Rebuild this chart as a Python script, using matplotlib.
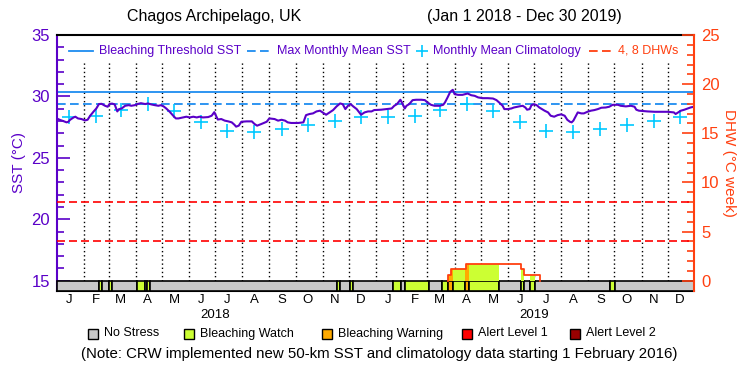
import numpy as np
import pandas as pd
import matplotlib
matplotlib.use('Agg')
import matplotlib.pyplot as plt
import matplotlib.dates as mdates
from matplotlib.patches import Rectangle

plt.rcParams['font.family'] = ['Liberation Sans', 'DejaVu Sans']

# ---- data ----
start_date = '2018-01-01'
end_date = '2019-12-31'

# daily SST, as days since 1 Jan 2018
sst_day = [
    0, 3, 7, 11, 13, 15, 19, 21, 24, 28,
    32, 35, 38, 42, 45, 48, 51, 55, 58, 60,
    63, 66, 69, 71, 74, 78, 82, 85, 89, 93,
    96, 101, 104, 108, 112, 116, 119, 122, 125, 129,
    133, 136, 139, 144, 148, 152, 156, 160, 163, 167,
    173, 177, 180, 182, 184, 188, 192, 196, 200, 203,
    205, 208, 211, 217, 223, 226, 229, 234, 240, 243,
    249, 253, 257, 261, 264, 268, 276, 282, 285, 289,
    293, 297, 301, 304, 308, 312, 316, 320, 324, 327,
    330, 333, 336, 339, 343, 346, 348, 352, 356, 360,
    363, 371, 377, 383, 386, 389, 393, 395, 398, 400,
    403, 407, 411, 417, 421, 424, 428, 432, 438, 442,
    444, 447, 450, 453, 455, 459, 464, 470, 474, 478,
    482, 487, 493, 499, 503, 506, 510, 512, 516, 520,
    523, 529, 533, 536, 538, 541, 543, 546, 549, 552,
    555, 558, 562, 565, 569, 573, 577, 581, 584, 587,
    589, 591, 594, 596, 600, 603, 607, 611, 615, 619,
    623, 628, 632, 636, 642, 645, 651, 657, 661, 663,
    666, 676, 684, 691, 699, 706, 708, 711, 714, 718,
    722, 725, 728]
sst_val = [
    28.20, 28.10, 28.00, 27.89, 27.94, 28.10, 28.29, 28.35, 28.21, 28.16,
    28.05, 28.10, 28.43, 28.78, 29.02, 29.38, 29.40, 29.24, 29.16, 29.38,
    29.42, 29.35, 28.78, 28.97, 29.02, 29.24, 29.29, 29.24, 29.29, 29.40,
    29.45, 29.38, 29.43, 29.35, 29.29, 29.24, 29.29, 29.19, 29.02, 28.75,
    28.43, 28.21, 28.21, 28.29, 28.35, 28.29, 28.35, 28.29, 28.35, 28.29,
    28.32, 28.43, 28.72, 28.43, 28.12, 28.16, 28.03, 27.97, 27.89, 27.70,
    27.54, 27.62, 27.94, 27.97, 27.97, 27.76, 27.62, 27.76, 27.94, 28.21,
    28.16, 28.03, 28.10, 28.03, 27.89, 27.84, 27.84, 27.89, 28.48, 28.57,
    28.62, 28.78, 28.84, 28.70, 28.51, 28.70, 28.89, 29.19, 29.43, 29.37,
    28.97, 29.24, 29.38, 29.19, 28.97, 28.70, 28.51, 28.70, 28.78, 28.78,
    28.89, 28.92, 28.97, 29.02, 29.24, 29.37, 29.73, 29.46, 29.02, 29.24,
    29.37, 29.70, 29.73, 29.73, 29.70, 29.51, 29.32, 29.24, 29.24, 29.32,
    29.51, 29.92, 30.37, 30.54, 30.19, 30.13, 30.13, 30.24, 30.10, 30.05,
    29.92, 29.86, 29.86, 29.83, 29.70, 29.51, 29.24, 28.97, 28.97, 29.02,
    29.10, 29.19, 29.24, 29.10, 28.92, 28.97, 29.29, 29.37, 29.29, 29.10,
    28.97, 28.84, 28.70, 28.43, 28.35, 28.48, 28.54, 28.43, 28.10, 27.94,
    27.89, 28.03, 28.43, 28.70, 28.62, 28.62, 28.75, 28.84, 28.89, 28.97,
    29.08, 29.10, 29.16, 29.32, 29.32, 29.24, 29.19, 29.24, 29.16, 28.92,
    28.84, 28.78, 28.75, 28.75, 28.75, 28.70, 28.57, 28.70, 28.84, 28.92,
    29.02, 29.10, 29.15]

mmm = 29.37
threshold = 30.37
dhw_levels = [4, 8]

# monthly mean climatology, Jan..Dec (repeated each year)
clim_val = [28.30, 28.43, 28.91, 29.37, 28.78, 27.89,
            27.21, 27.13, 27.35, 27.70, 28.02, 28.30]

# bleaching alert level, changes at these dates
stress_start = ['2018-01-01', '2018-02-18', '2018-02-22', '2018-03-01', '2018-03-05',
                '2018-04-02', '2018-04-12', '2018-04-14', '2018-04-18', '2018-11-18',
                '2018-11-21', '2018-12-02', '2018-12-06', '2019-01-20', '2019-01-30',
                '2019-02-03', '2019-03-03', '2019-03-18', '2019-03-25', '2019-03-30',
                '2019-04-13', '2019-04-17', '2019-05-22', '2019-06-16', '2019-06-19',
                '2019-06-26', '2019-07-02', '2019-09-26', '2019-10-02']
stress_level = [0, 1, 0, 1, 0, 1, 0, 1, 0, 1, 0, 1, 0, 1, 0,
                1, 0, 1, 2, 1, 2, 1, 0, 1, 0, 1, 0, 1, 0]

# degree heating weeks, changes at these dates
dhw_date = ['2019-03-25', '2019-03-28', '2019-04-14', '2019-06-16', '2019-06-19', '2019-07-08']
dhw_val = [0.6, 1.2, 1.7, 1.2, 0.6, 0.0]

month_letters = ['J', 'F', 'M', 'A', 'M', 'J', 'J', 'A', 'S', 'O', 'N', 'D']
years = [2018, 2019]

level_names = ['No Stress', 'Bleaching Watch', 'Bleaching Warning', 'Alert Level 1', 'Alert Level 2']
level_colors = ['#c8c8c8', '#ccff33', '#ffaa00', '#ff0000', '#990000']

PURPLE = '#5a00c8'
BLUE = '#1e8cf0'
CYAN = '#00c8ff'
ORANGE = '#ff4010'

# ---- figure ----
t0 = pd.Timestamp(start_date)
t1 = pd.Timestamp(end_date)

fig = plt.figure(figsize=(7.5, 3.75), dpi=100)
ax = fig.add_axes([0.076, 0.2253, 0.8493, 0.6813])
ax2 = ax.twinx()

ymin, ymax = 14.2, 35.0
ax.set_ylim(ymin, ymax)
ax2.set_ylim((ymin - 15) * 1.25, (ymax - 15) * 1.25)
ax.set_xlim(t0, t1)

# month boundaries
month_starts = pd.date_range(t0, t1, freq='MS')
ax.vlines(month_starts[1:], 15, 32.8, colors='black', lw=1, linestyles=(0, (1, 2)), zorder=1)

# threshold / MMM
ax.axhline(threshold, color=BLUE, lw=1.3, zorder=2)
ax.axhline(mmm, color=BLUE, lw=1.3, ls=(0, (4.8, 2.4)), zorder=2)
for d in dhw_levels:
    ax2.axhline(d, color='#ff0000', lw=1.2, ls=(0, (4.8, 2.4)), zorder=2)

# climatology
clim_dates = month_starts + pd.Timedelta(days=14)
ax.plot(clim_dates, np.tile(clim_val, len(years)), ls='none', marker='+',
        color=CYAN, ms=10, mew=1.2, zorder=3)

# SST
sst_dates = t0 + pd.to_timedelta(sst_day, unit='D')
ax.plot(sst_dates, sst_val, color=PURPLE, lw=1.5, zorder=5)

# stress bar
seg_starts = pd.to_datetime(stress_start)
seg_ends = list(seg_starts[1:]) + [t1]
for s, e, lev in zip(seg_starts, seg_ends, stress_level):
    x0 = mdates.date2num(s)
    x1 = mdates.date2num(e)
    ax.add_patch(Rectangle((x0, ymin), x1 - x0, 15 - ymin, facecolor=level_colors[lev],
                           edgecolor='black', lw=1.2, zorder=4, clip_on=False))

# DHW area coloured by alert level
days = pd.date_range(t0, t1, freq='D')
dhw_dates = pd.to_datetime(dhw_date)
idx = np.searchsorted(dhw_dates.values, days.values, side='right') - 1
dhw_daily = np.where(idx >= 0, np.array(dhw_val)[np.clip(idx, 0, None)], 0.0)
for s, e, lev in zip(seg_starts, seg_ends, stress_level):
    if lev == 0:
        continue
    m = (days >= s) & (days <= e)
    ax2.fill_between(days[m], 0, dhw_daily[m], step='post',
                     color=level_colors[lev], lw=0, zorder=2)
ax2.step([dhw_dates[0]] + list(dhw_dates), [0] + dhw_val, where='post',
         color=ORANGE, lw=1.3, zorder=3)

# axes styling
ax.set_xticks([])
ax2.set_xticks([])
ax.set_yticks([15, 20, 25, 30, 35])
ax.set_yticks(np.arange(15, 36, 1), minor=True)
ax2.set_yticks([0, 5, 10, 15, 20, 25])
ax2.set_yticks(np.arange(0, 26, 1), minor=True)
ax.tick_params(axis='y', which='major', direction='in', length=9, width=1.2,
               color=PURPLE, labelcolor=PURPLE, labelsize=12, pad=5)
ax.tick_params(axis='y', which='minor', direction='in', length=5, width=1.2, color=PURPLE)
ax2.tick_params(axis='y', which='major', direction='in', length=9, width=1.2,
                color=ORANGE, labelcolor=ORANGE, labelsize=12, pad=5)
ax2.tick_params(axis='y', which='minor', direction='in', length=5, width=1.2, color=ORANGE)

ax.spines['left'].set_color(PURPLE)
ax.spines['right'].set_visible(False)
ax2.spines['left'].set_visible(False)
ax2.spines['top'].set_visible(False)
ax2.spines['bottom'].set_visible(False)
ax2.spines['right'].set_color(ORANGE)
for sp in ['left', 'top', 'bottom']:
    ax.spines[sp].set_linewidth(1.5)
ax2.spines['right'].set_linewidth(1.5)

ax.set_ylabel('SST (°C)', color=PURPLE, fontsize=11, labelpad=4)
ax2.set_ylabel('DHW (°C week)', color=ORANGE, fontsize=11, rotation=-90, labelpad=12)

# month / year labels
xt = ax.get_xaxis_transform()
for i, ms_ in enumerate(month_starts):
    ax.text(ms_ + pd.Timedelta(days=14), -0.037, month_letters[ms_.month - 1],
            transform=xt, ha='center', va='center', fontsize=9.5)
for y in years:
    ax.text(pd.Timestamp(f'{y}-07-01'), -0.096, str(y), transform=xt,
            ha='center', va='center', fontsize=9.5)

# in-plot legend
ly = 0.9386
ta = ax.transAxes
ax.plot([0.0188, 0.0565], [ly, ly], color=BLUE, lw=1.3, transform=ta)
ax.text(0.0659, ly, 'Bleaching Threshold SST', color=PURPLE, fontsize=9, va='center', transform=ta)
ax.plot([0.298, 0.334], [ly, ly], color=BLUE, lw=1.3, ls=(0, (4.8, 2.4)), transform=ta)
ax.text(0.345, ly, 'Max Monthly Mean SST', color=PURPLE, fontsize=9, va='center', transform=ta)
ax.plot([0.573], [ly], marker='+', color=CYAN, ms=9, mew=1.2, transform=ta)
ax.text(0.590, ly, 'Monthly Mean Climatology', color=PURPLE, fontsize=9, va='center', transform=ta)
ax.plot([0.835, 0.871], [ly, ly], color=ORANGE, lw=1.3, ls=(0, (4.8, 2.4)), transform=ta)
ax.text(0.881, ly, '4, 8 DHWs', color=ORANGE, fontsize=9, va='center', transform=ta)

# title
fig.text(127 / 750, 1 - 17 / 375, 'Chagos Archipelago, UK', fontsize=11.5, va='center', ha='left')
fig.text(622 / 750, 1 - 17 / 375, '(Jan 1 2018 - Dec 30 2019)', fontsize=11.5, va='center', ha='right')

# bottom legend
box_x = [88, 184, 322, 462, 570]
for bx, name, col in zip(box_x, level_names, level_colors):
    fig.add_artist(Rectangle((bx / 750, 1 - 338.5 / 375), 10 / 750, 10 / 375,
                             facecolor=col, edgecolor='black', lw=1,
                             transform=fig.transFigure))
    fig.text((bx + 16) / 750, 1 - 333.5 / 375, name, fontsize=9, va='center', ha='left')

fig.text(379 / 750, 1 - 354 / 375,
         '(Note: CRW implemented new 50-km SST and climatology data starting 1 February 2016)',
         fontsize=10.8, va='center', ha='center')

fig.savefig('out.png', dpi=100)
